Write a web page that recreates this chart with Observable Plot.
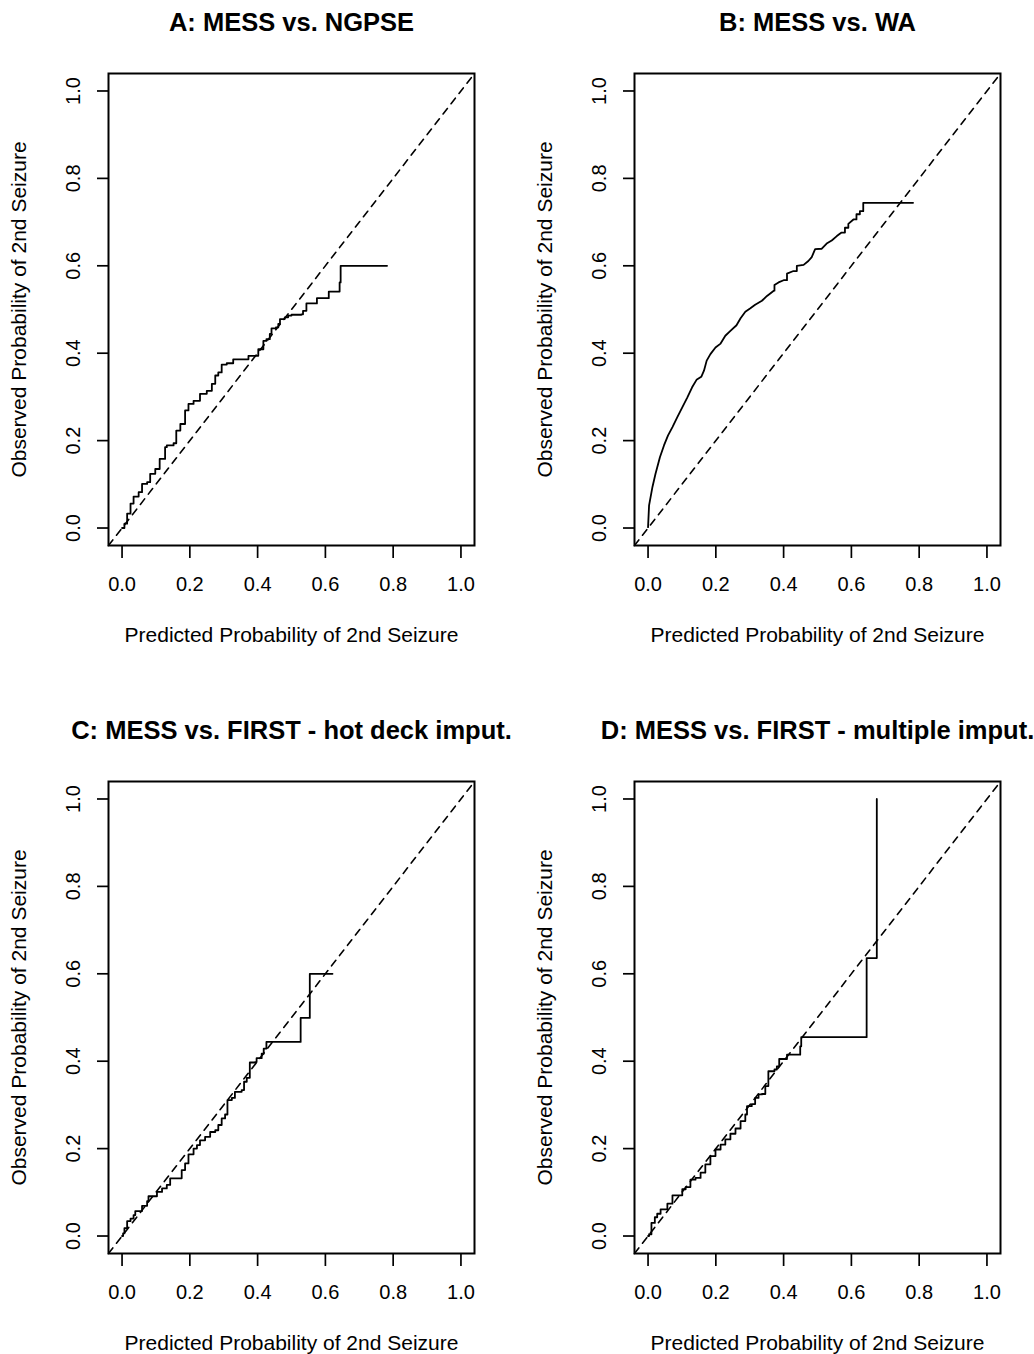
<!DOCTYPE html>
<html><head><meta charset="utf-8">
<script src="https://cdn.jsdelivr.net/npm/d3@7"></script>
<script src="https://cdn.jsdelivr.net/npm/@observablehq/plot@0.6"></script>
<style>
html,body{margin:0;padding:0;background:#fff;}
#root{position:relative;width:1034px;height:1354px;overflow:hidden;}
.panel{position:absolute;}
</style></head><body><div id="root"></div>
<script>
const ticks = [0, 0.2, 0.4, 0.6, 0.8, 1.0];
const diag = [-0.04, 1.04];
const titles = ["A: MESS vs. NGPSE", "B: MESS vs. WA", "C: MESS vs. FIRST - hot deck imput.", "D: MESS vs. FIRST - multiple imput."];
const xLabel = "Predicted Probability of 2nd Seizure";
const yLabel = "Observed Probability of 2nd Seizure";

// Panels A, C, D: step points (step-after)
const predA = [0.000,0.007,0.015,0.025,0.034,0.049,0.059,0.074,0.083,0.098,0.111,0.127,0.132,0.152,0.160,0.172,0.186,0.196,0.211,0.230,0.250,0.265,0.275,0.284,0.294,0.309,0.328,0.368,0.373,0.392,0.402,0.417,0.426,0.436,0.441,0.454,0.461,0.466,0.480,0.490,0.500,0.529,0.534,0.544,0.574,0.575,0.608,0.610,0.639,0.642,0.645,0.782];
const obsA  = [0.000,0.010,0.033,0.056,0.072,0.082,0.101,0.105,0.124,0.135,0.158,0.185,0.189,0.194,0.223,0.238,0.269,0.284,0.291,0.307,0.314,0.330,0.349,0.356,0.374,0.377,0.386,0.386,0.394,0.394,0.409,0.428,0.432,0.444,0.457,0.459,0.467,0.478,0.482,0.486,0.488,0.489,0.497,0.514,0.514,0.526,0.526,0.541,0.541,0.562,0.600,0.600];

// Panel B: curve vertices (linear)
const predB = [0.000,0.003,0.013,0.022,0.035,0.047,0.059,0.072,0.086,0.101,0.116,0.130,0.143,0.157,0.165,0.173,0.184,0.199,0.214,0.228,0.243,0.261,0.273,0.287,0.302,0.316,0.336,0.351,0.371,0.373,0.373,0.385,0.400,0.410,0.410,0.429,0.439,0.439,0.459,0.473,0.483,0.493,0.512,0.527,0.542,0.557,0.571,0.581,0.581,0.591,0.591,0.606,0.615,0.615,0.625,0.625,0.635,0.635,0.782];
const obsB  = [0.002,0.052,0.094,0.124,0.162,0.189,0.212,0.231,0.253,0.276,0.299,0.322,0.339,0.346,0.360,0.383,0.398,0.413,0.422,0.440,0.451,0.464,0.480,0.495,0.503,0.511,0.520,0.531,0.543,0.543,0.556,0.562,0.567,0.567,0.582,0.588,0.588,0.600,0.602,0.611,0.620,0.638,0.639,0.651,0.658,0.668,0.676,0.676,0.687,0.687,0.696,0.706,0.706,0.718,0.718,0.725,0.725,0.744,0.744];

const predC = [0.000,0.003,0.007,0.015,0.025,0.034,0.039,0.052,0.059,0.074,0.078,0.098,0.103,0.118,0.132,0.142,0.162,0.176,0.186,0.196,0.211,0.221,0.230,0.245,0.260,0.275,0.284,0.294,0.304,0.311,0.324,0.333,0.353,0.360,0.368,0.377,0.392,0.397,0.407,0.412,0.418,0.426,0.525,0.527,0.552,0.554,0.621];
const obsC  = [0.000,0.006,0.018,0.034,0.040,0.048,0.057,0.057,0.069,0.080,0.091,0.091,0.101,0.109,0.117,0.132,0.132,0.151,0.166,0.187,0.200,0.208,0.219,0.227,0.238,0.242,0.254,0.269,0.278,0.311,0.316,0.330,0.334,0.353,0.362,0.397,0.398,0.407,0.407,0.417,0.429,0.444,0.444,0.499,0.499,0.600,0.600];

const predD = [0.000,0.003,0.010,0.020,0.027,0.037,0.047,0.057,0.072,0.091,0.101,0.111,0.125,0.140,0.155,0.169,0.184,0.199,0.214,0.228,0.243,0.258,0.273,0.287,0.292,0.306,0.316,0.326,0.336,0.346,0.355,0.373,0.380,0.387,0.405,0.410,0.447,0.449,0.452,0.645,0.645,0.675,0.675];
const obsD  = [0.000,0.004,0.030,0.043,0.051,0.061,0.061,0.074,0.093,0.093,0.107,0.112,0.129,0.133,0.145,0.164,0.183,0.198,0.209,0.221,0.234,0.246,0.263,0.278,0.297,0.302,0.316,0.324,0.325,0.343,0.377,0.381,0.388,0.405,0.405,0.415,0.415,0.434,0.455,0.455,0.636,0.636,1.000];

const font = "'Liberation Sans', Arial, sans-serif";
const fmt = d3.format(".1f");

function panel(title, pred, obs, curve, left, top, width, height, mL, mR, mT, mB) {
  const data = pred.map((p, i) => ({p, o: obs[i]}));
  const chart = Plot.plot({
    width, height, marginLeft: mL, marginRight: mR, marginTop: mT, marginBottom: mB,
    x: {domain: diag},
    y: {domain: diag},
    style: {fontFamily: font, fontSize: "20px", color: "#000", background: "transparent", overflow: "visible"},
    marks: [
      Plot.line(diag, {x: d => d, y: d => d, stroke: "#000", strokeWidth: 1.6, strokeDasharray: "7,6"}),
      Plot.line(data, {x: "p", y: "o", curve, stroke: "#000", strokeWidth: 1.8}),
      Plot.frame({stroke: "#000", strokeWidth: 2}),
      Plot.axisX({ticks, tickFormat: fmt, tickSize: 13, tickPadding: 18, label: null, strokeWidth: 1.7}),
      Plot.axisY({ticks, tickFormat: fmt, tickSize: 11, tickRotate: -90, tickPadding: 18, label: null, strokeWidth: 1.7}),
      Plot.text([title], {text: d => d, frameAnchor: "top", dy: -51, fontWeight: "bold", fontSize: 25.5, lineAnchor: "middle"}),
      Plot.text([xLabel], {text: d => d, frameAnchor: "bottom", dy: 90, fontSize: 21, lineAnchor: "middle"}),
      Plot.text([yLabel], {text: d => d, frameAnchor: "left", dx: -89, rotate: -90, fontSize: 21, textAnchor: "middle", lineAnchor: "middle"})
    ]
  });
  chart.classList.add("panel");
  chart.style.left = left + "px";
  chart.style.top = top + "px";
  document.getElementById("root").appendChild(chart);
}

panel(titles[0], predA, obsA, "step-after", 0, 0, 517, 660, 108, 43, 73, 115);
panel(titles[1], predB, obsB, "linear", 517, 0, 517, 660, 117, 34, 73, 115);
panel(titles[2], predC, obsC, "step-after", 0, 700, 517, 654, 108, 43, 81, 101);
panel(titles[3], predD, obsD, "step-after", 517, 700, 517, 654, 117, 34, 81, 101);
</script>
</body></html>
